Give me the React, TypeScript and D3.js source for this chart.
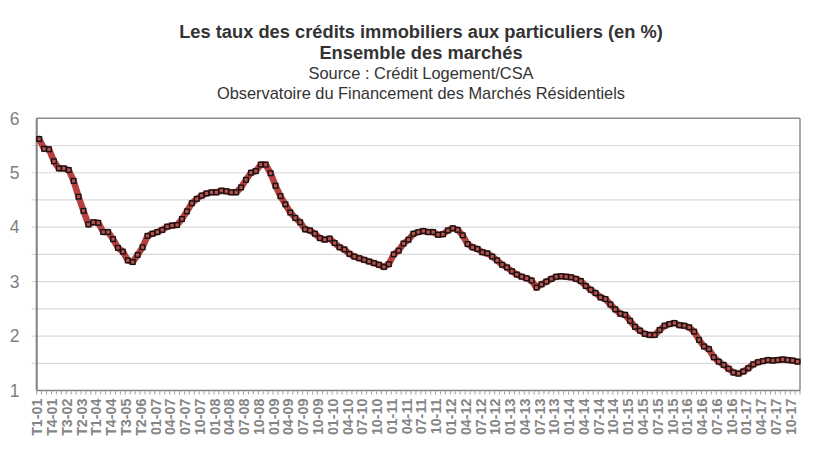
import React, { useRef, useEffect } from 'react';
import * as d3 from 'd3';

const titleLines = [
  'Les taux des crédits immobiliers aux particuliers (en %)',
  'Ensemble des marchés',
  'Source : Crédit Logement/CSA',
  'Observatoire du Financement des Marchés Résidentiels',
];

const tickLabels = [
  'T1-01', 'T4-01', 'T3-02', 'T2-03', 'T1-04', 'T4-04', 'T3-05', 'T2-06',
  '01-07', '04-07', '07-07', '10-07', '01-08', '04-08', '07-08', '10-08',
  '01-09', '04-09', '07-09', '10-09', '01-10', '04-10', '07-10', '10-10',
  '01-11', '04-11', '07-11', '10-11', '01-12', '04-12', '07-12', '10-12',
  '01-13', '04-13', '07-13', '10-13', '01-14', '04-14', '07-14', '10-14',
  '01-15', '04-15', '07-15', '10-15', '01-16', '04-16', '07-16', '10-16',
  '01-17', '04-17', '07-17', '10-17',
];

// quarterly 2001-2006, then monthly Jan 2007 - Nov 2017
const rates = [
  5.62, 5.44, 5.43, 5.21, 5.08, 5.08, 5.05, 4.85, 4.56, 4.30, 4.05, 4.09,
  4.08, 3.91, 3.91, 3.78, 3.62, 3.55, 3.39, 3.36, 3.49, 3.63, 3.84, 3.88,
  3.91, 3.95, 4.01, 4.03, 4.04, 4.15, 4.29, 4.44, 4.52, 4.58, 4.62, 4.64,
  4.64, 4.67, 4.66, 4.64, 4.64, 4.73, 4.87, 5.00, 5.03, 5.15, 5.15, 4.99,
  4.76, 4.57, 4.42, 4.27, 4.17, 4.09, 3.96, 3.94, 3.88, 3.80, 3.77, 3.79,
  3.71, 3.63, 3.59, 3.51, 3.46, 3.43, 3.40, 3.37, 3.34, 3.31, 3.27, 3.32,
  3.50, 3.57, 3.70, 3.77, 3.88, 3.91, 3.93, 3.91, 3.91, 3.86, 3.87, 3.94,
  3.98, 3.95, 3.85, 3.69, 3.63, 3.60, 3.54, 3.52, 3.46, 3.39, 3.31, 3.26,
  3.19, 3.13, 3.09, 3.06, 3.02, 2.89, 2.95, 3.00, 3.05, 3.09, 3.10, 3.09,
  3.08, 3.05, 3.01, 2.92, 2.85, 2.79, 2.71, 2.68, 2.58, 2.49, 2.41, 2.39,
  2.28, 2.17, 2.10, 2.04, 2.02, 2.02, 2.11, 2.19, 2.22, 2.24, 2.20, 2.19,
  2.16, 2.08, 1.93, 1.81, 1.76, 1.61, 1.53, 1.47, 1.40, 1.33, 1.31, 1.35,
  1.41, 1.48, 1.52, 1.54, 1.56, 1.55, 1.56, 1.57, 1.56, 1.55, 1.53,
];

const yTicks = [1, 2, 3, 4, 5, 6];
const gridLevels = [1.5, 2, 2.5, 3, 3.5, 4, 4.5, 5, 5.5];

const W = 840;
const H = 469;
const L = 36.7;
const R = 800;
const T = 118.3;
const B = 390.5;
const FONT = "'Liberation Sans', Arial, Helvetica, sans-serif";

export default function App() {
  const ref = useRef<SVGSVGElement | null>(null);

  useEffect(() => {
    const svg = d3.select(ref.current);
    svg.selectAll('*').remove();

    const x = d3.scalePoint<number>().domain(d3.range(rates.length)).range([L, R]).padding(0.5);
    const step = x.step();
    const y = d3.scaleLinear().domain([1, 6]).range([B, T]);

    svg.append('rect').attr('x', 0).attr('y', 0).attr('width', W).attr('height', H).attr('fill', '#ffffff');

    // titles
    const tg = svg.append('g').attr('font-family', FONT).attr('text-anchor', 'middle').attr('fill', '#333333');
    const titleY = [38, 58.5, 78.5, 99];
    titleLines.forEach((t, k) => {
      tg.append('text')
        .attr('x', 421)
        .attr('y', titleY[k])
        .attr('font-size', k < 2 ? 18.3 : 16.4)
        .attr('font-weight', k < 2 ? 'bold' : 'normal')
        .text(t);
    });

    // gridlines
    svg.append('g').selectAll('line').data(gridLevels).join('line')
      .attr('x1', L - 5).attr('x2', R)
      .attr('y1', (d) => y(d)).attr('y2', (d) => y(d))
      .attr('stroke', '#d9d9d9').attr('stroke-width', 1.2);

    // frame
    svg.append('line').attr('x1', L).attr('x2', R).attr('y1', T).attr('y2', T).attr('stroke', '#8c8c8c').attr('stroke-width', 1.5);
    svg.append('line').attr('x1', R).attr('x2', R).attr('y1', T).attr('y2', B).attr('stroke', '#8c8c8c').attr('stroke-width', 1.5);
    svg.append('line').attr('x1', L).attr('x2', L).attr('y1', T).attr('y2', B).attr('stroke', '#808080').attr('stroke-width', 2);
    svg.append('line').attr('x1', L).attr('x2', R).attr('y1', B).attr('y2', B).attr('stroke', '#808080').attr('stroke-width', 1.5);

    // bottom ticks
    svg.append('g').selectAll('line').data(d3.range(rates.length + 1)).join('line')
      .attr('x1', (k) => L + k * step).attr('x2', (k) => L + k * step)
      .attr('y1', B).attr('y2', B + 4)
      .attr('stroke', '#a0a0a0').attr('stroke-width', 1);

    // y labels
    svg.append('g').selectAll('text').data(yTicks).join('text')
      .attr('x', 14.7).attr('y', (d) => y(d)).attr('dy', '0.36em')
      .attr('text-anchor', 'middle').attr('font-family', FONT).attr('font-size', 17.5)
      .attr('fill', '#7f7f7f').text((d) => String(d));

    // x labels
    svg.append('g').selectAll('text').data(tickLabels).join('text')
      .attr('transform', (d, k) => `translate(${(x(k * 3) as number) - 2},${B + 8}) rotate(-90)`)
      .attr('dy', '0.36em')
      .attr('text-anchor', 'end').attr('font-family', FONT).attr('font-size', 14.3)
      .attr('font-weight', 'bold').attr('fill', '#858585').text((d) => d);

    // line
    const line = d3.line<number>().x((d, i) => x(i) as number).y((d) => y(d));
    svg.append('path').datum(rates).attr('d', line)
      .attr('fill', 'none').attr('stroke', '#b5403f').attr('stroke-width', 6.5)
      .attr('stroke-linejoin', 'round').attr('stroke-linecap', 'round');

    // markers
    const ms = 4.6;
    svg.append('g').selectAll('rect').data(rates).join('rect')
      .attr('x', (d, i) => (x(i) as number) - ms / 2)
      .attr('y', (d) => y(d) - ms / 2)
      .attr('width', ms).attr('height', ms)
      .attr('fill', '#c0504d').attr('stroke', '#141414').attr('stroke-width', 1.4);
  }, []);

  return (
    <svg
      ref={ref}
      width={W}
      height={H}
      style={{ position: 'absolute', left: 0, top: 0, display: 'block' }}
    />
  );
}
